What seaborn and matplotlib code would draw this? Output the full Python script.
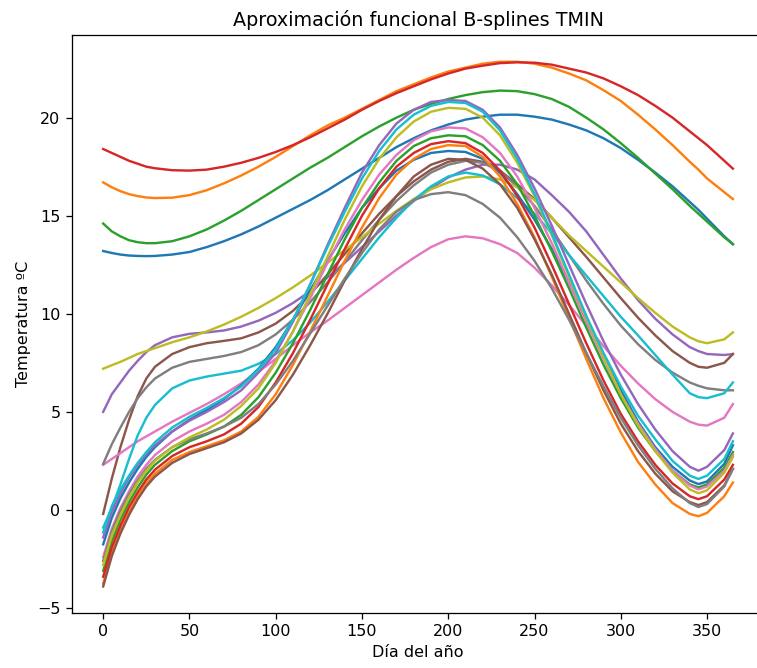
import numpy as np
import pandas as pd
import matplotlib
matplotlib.use("Agg")
import matplotlib.pyplot as plt
import seaborn as sns

# Días en los que se evalúa cada curva suavizada
dias = [0, 5, 10, 15, 20, 25, 30, 40, 50, 60, 70, 80, 90, 100, 110, 120, 130, 140, 150, 160,
        170, 180, 190, 200, 210, 220, 230, 240, 250, 260, 270, 280, 290, 300, 310, 320, 330,
        340, 345, 350, 360, 365]

# Curvas TMIN aproximadas por B-splines, una por estación
est_00 = [13.2, 13.1, 13.02, 12.97, 12.95, 12.94, 12.95, 13.02, 13.15, 13.4, 13.7, 14.05, 14.45,
          14.9, 15.35, 15.8, 16.3, 16.85, 17.4, 17.95, 18.5, 18.95, 19.35, 19.65, 19.9, 20.05,
          20.15, 20.15, 20.05, 19.9, 19.65, 19.35, 18.95, 18.45, 17.85, 17.2, 16.5, 15.7, 15.3,
          14.85, 13.95, 13.55]
est_01 = [16.7, 16.45, 16.25, 16.1, 16.0, 15.93, 15.9, 15.92, 16.05, 16.3, 16.65, 17.05, 17.5,
          18.0, 18.55, 19.1, 19.6, 20.0, 20.45, 20.9, 21.35, 21.7, 22.05, 22.35, 22.55, 22.75,
          22.85, 22.85, 22.75, 22.55, 22.25, 21.9, 21.4, 20.85, 20.15, 19.4, 18.6, 17.75, 17.35,
          16.9, 16.2, 15.85]
est_02 = [14.6, 14.2, 13.95, 13.75, 13.65, 13.6, 13.6, 13.7, 13.95, 14.3, 14.75, 15.25, 15.8,
          16.35, 16.9, 17.45, 17.95, 18.5, 19.05, 19.55, 20.0, 20.4, 20.7, 20.95, 21.15, 21.3,
          21.38, 21.35, 21.2, 20.95, 20.55, 20.0, 19.4, 18.7, 17.95, 17.15, 16.35, 15.5, 15.1,
          14.7, 13.9, 13.55]
est_03 = [18.4, 18.2, 18.0, 17.8, 17.65, 17.5, 17.42, 17.32, 17.3, 17.35, 17.5, 17.7, 17.95,
          18.25, 18.6, 19.0, 19.45, 19.9, 20.4, 20.85, 21.25, 21.6, 21.95, 22.25, 22.5, 22.65,
          22.78, 22.82, 22.8, 22.7, 22.5, 22.3, 22.0, 21.6, 21.15, 20.6, 20.0, 19.3, 18.95,
          18.6, 17.8, 17.4]
est_04 = [5.0, 5.9, 6.5, 7.1, 7.6, 8.05, 8.4, 8.8, 8.98, 9.05, 9.15, 9.35, 9.65, 10.05, 10.55,
          11.15, 11.85, 12.6, 13.4, 14.2, 15.0, 15.75, 16.4, 16.95, 17.35, 17.6, 17.6, 17.35,
          16.85, 16.05, 15.2, 14.2, 13.0, 11.8, 10.7, 9.75, 8.95, 8.3, 8.1, 7.95, 7.9, 7.95]
est_05 = [-0.2, 1.6, 3.2, 4.6, 5.8, 6.7, 7.3, 7.95, 8.3, 8.5, 8.62, 8.75, 9.05, 9.5, 10.15, 11.0,
          12.0, 13.05, 14.1, 15.1, 16.0, 16.75, 17.35, 17.75, 17.9, 17.75, 17.3, 16.6, 15.85,
          14.9, 13.9, 12.9, 11.85, 10.8, 9.8, 8.9, 8.1, 7.5, 7.3, 7.25, 7.5, 7.95]
est_06 = [2.3, 2.6, 2.9, 3.2, 3.5, 3.75, 4.0, 4.5, 4.95, 5.4, 5.9, 6.45, 7.05, 7.7, 8.4, 9.05,
          9.65, 10.3, 10.95, 11.6, 12.25, 12.85, 13.4, 13.8, 13.95, 13.85, 13.55, 13.1, 12.35,
          11.45, 10.45, 9.4, 8.35, 7.35, 6.45, 5.65, 5.0, 4.5, 4.35, 4.3, 4.7, 5.4]
est_07 = [2.35, 3.35, 4.2, 5.0, 5.7, 6.25, 6.7, 7.25, 7.55, 7.7, 7.85, 8.05, 8.4, 8.95, 9.7,
          10.6, 11.6, 12.65, 13.75, 14.8, 15.75, 16.55, 17.2, 17.6, 17.8, 17.7, 17.25, 16.5,
          15.5, 14.3, 13.0, 11.7, 10.5, 9.4, 8.45, 7.65, 7.0, 6.5, 6.33, 6.2, 6.1, 6.1]
est_08 = [7.2, 7.38, 7.55, 7.75, 7.95, 8.1, 8.25, 8.55, 8.8, 9.1, 9.45, 9.85, 10.3, 10.8,
          11.35, 11.95, 12.6, 13.25, 13.9, 14.6, 15.25, 15.85, 16.35, 16.7, 16.95, 17.0, 16.85,
          16.45, 15.8, 14.9, 14.0, 13.2, 12.4, 11.6, 10.8, 10.05, 9.35, 8.8, 8.6, 8.5, 8.7, 9.05]
est_09 = [-0.9, 0.1, 1.3, 2.6, 3.8, 4.7, 5.35, 6.2, 6.6, 6.8, 6.95, 7.1, 7.45, 7.95, 8.65,
          9.55, 10.6, 11.7, 12.8, 13.9, 14.9, 15.8, 16.5, 17.0, 17.2, 17.05, 16.6, 15.9, 15.1,
          14.1, 13.0, 11.95, 10.9, 9.85, 8.9, 7.9, 6.9, 5.95, 5.75, 5.7, 5.95, 6.5]
est_10 = [-1.75, -0.4, 0.6, 1.4, 2.1, 2.7, 3.2, 4.0, 4.6, 5.1, 5.65, 6.35, 7.2, 8.3, 9.7, 11.2,
          12.7, 14.1, 15.4, 16.4, 17.3, 17.85, 18.2, 18.3, 18.25, 17.9, 17.2, 16.1, 14.8, 13.3,
          11.6, 9.8, 7.9, 6.1, 4.5, 3.2, 2.2, 1.5, 1.32, 1.45, 2.35, 3.3]
est_11 = [-3.75, -2.2, -1.05, -0.1, 0.7, 1.35, 1.85, 2.55, 2.95, 3.25, 3.55, 4.0, 4.75, 5.9,
          7.4, 9.1, 10.9, 12.7, 14.4, 15.9, 17.1, 17.9, 18.4, 18.6, 18.55, 18.0, 17.0, 15.6,
          13.9, 11.9, 9.8, 7.7, 5.7, 3.95, 2.45, 1.3, 0.35, -0.2, -0.32, -0.15, 0.7, 1.4]
est_12 = [-3.1, -1.6, -0.5, 0.4, 1.15, 1.8, 2.3, 3.0, 3.5, 3.85, 4.25, 4.85, 5.75, 7.0, 8.5,
          10.2, 12.0, 13.8, 15.4, 16.7, 17.8, 18.55, 18.95, 19.1, 19.05, 18.6, 17.8, 16.6, 15.0,
          13.2, 11.3, 9.3, 7.4, 5.7, 4.2, 3.0, 2.0, 1.3, 1.15, 1.3, 2.15, 2.95]
est_13 = [-3.4, -1.9, -0.8, 0.15, 0.9, 1.55, 2.05, 2.75, 3.2, 3.5, 3.85, 4.4, 5.25, 6.5, 8.0,
          9.7, 11.5, 13.3, 15.0, 16.4, 17.5, 18.2, 18.65, 18.8, 18.7, 18.2, 17.3, 16.0, 14.4,
          12.5, 10.5, 8.5, 6.6, 4.9, 3.5, 2.3, 1.35, 0.7, 0.55, 0.7, 1.55, 2.3]
est_14 = [-1.4, -0.1, 0.85, 1.65, 2.3, 2.85, 3.3, 4.0, 4.55, 5.0, 5.5, 6.1, 7.0, 8.0, 9.6,
          11.5, 13.5, 15.4, 17.2, 18.6, 19.7, 20.4, 20.8, 20.9, 20.85, 20.4, 19.5, 18.1, 16.4,
          14.5, 12.5, 10.5, 8.6, 6.9, 5.4, 4.1, 3.0, 2.2, 2.0, 2.2, 3.05, 3.9]
est_15 = [-3.9, -2.35, -1.2, -0.25, 0.55, 1.2, 1.7, 2.4, 2.85, 3.15, 3.45, 3.9, 4.6, 5.6, 6.9,
          8.4, 10.0, 11.7, 13.3, 14.8, 16.0, 17.0, 17.6, 17.9, 17.85, 17.4, 16.6, 15.4, 13.8,
          12.0, 10.0, 8.0, 6.1, 4.4, 3.0, 1.85, 0.95, 0.4, 0.25, 0.4, 1.25, 2.1]
est_16 = [-2.4, -0.95, 0.1, 0.95, 1.7, 2.3, 2.8, 3.5, 4.0, 4.4, 4.85, 5.5, 6.4, 7.6, 9.1, 10.8,
          12.6, 14.3, 15.8, 17.1, 18.1, 18.85, 19.3, 19.5, 19.45, 19.0, 18.2, 17.0, 15.4, 13.6,
          11.6, 9.6, 7.7, 5.9, 4.4, 3.1, 2.0, 1.25, 1.05, 1.2, 2.0, 2.8]
est_17 = [-2.6, -1.1, -0.05, 0.8, 1.5, 2.1, 2.55, 3.2, 3.6, 3.9, 4.25, 4.7, 5.4, 6.4, 7.6, 9.0,
          10.4, 11.8, 13.1, 14.3, 15.2, 15.8, 16.1, 16.2, 16.05, 15.6, 14.9, 13.9, 12.7, 11.3,
          9.7, 8.0, 6.3, 4.7, 3.3, 2.1, 1.1, 0.35, 0.15, 0.3, 1.2, 2.1]
est_18 = [-2.8, -1.3, -0.25, 0.65, 1.4, 2.0, 2.5, 3.2, 3.7, 4.1, 4.6, 5.3, 6.2, 7.5, 9.1, 11.0,
          12.9, 14.8, 16.5, 17.9, 19.0, 19.8, 20.3, 20.5, 20.45, 20.0, 19.1, 17.7, 16.0, 14.0,
          11.9, 9.8, 7.8, 5.9, 4.3, 3.0, 1.9, 1.05, 0.85, 1.0, 1.9, 2.7]
est_19 = [-1.15, 0.2, 1.05, 1.75, 2.4, 2.95, 3.45, 4.2, 4.75, 5.2, 5.7, 6.3, 7.15, 8.2, 9.7,
          11.5, 13.4, 15.2, 16.9, 18.3, 19.4, 20.15, 20.6, 20.8, 20.75, 20.3, 19.35, 17.9, 16.1,
          14.1, 12.0, 9.9, 8.0, 6.3, 4.8, 3.6, 2.5, 1.75, 1.58, 1.75, 2.6, 3.5]

curvas = [est_00, est_01, est_02, est_03, est_04, est_05, est_06, est_07, est_08, est_09,
          est_10, est_11, est_12, est_13, est_14, est_15, est_16, est_17, est_18, est_19]

titulo = "Aproximación funcional B-splines TMIN"
etiqueta_x = "Día del año"
etiqueta_y = "Temperatura ºC"

# Tabla larga: una fila por (curva, día)
filas = []
for k, valores in enumerate(curvas):
    for d, t in zip(dias, valores):
        filas.append({"curva": k, "dia": d, "tmin": t})
df = pd.DataFrame(filas)

tab10 = sns.color_palette("tab10", 10)
paleta = {k: tab10[k % 10] for k in range(len(curvas))}

dpi = 115
fig = plt.figure(figsize=(757 / dpi, 668 / dpi), dpi=dpi)
ax = fig.add_axes([71.7 / 757, 55.3 / 668, 692.7 / 757, 577.2 / 668])

sns.lineplot(data=df, x="dia", y="tmin", hue="curva", hue_order=list(range(len(curvas))),
             palette=paleta, legend=False, linewidth=1.5, ax=ax, sort=False)

ax.set_title(titulo, fontsize=12)
ax.set_xlabel(etiqueta_x, fontsize=10)
ax.set_ylabel(etiqueta_y, fontsize=10)
ax.set_xticks([0, 50, 100, 150, 200, 250, 300, 350])
ax.set_yticks([-5, 0, 5, 10, 15, 20])

fig.savefig("out.png", dpi=dpi)
